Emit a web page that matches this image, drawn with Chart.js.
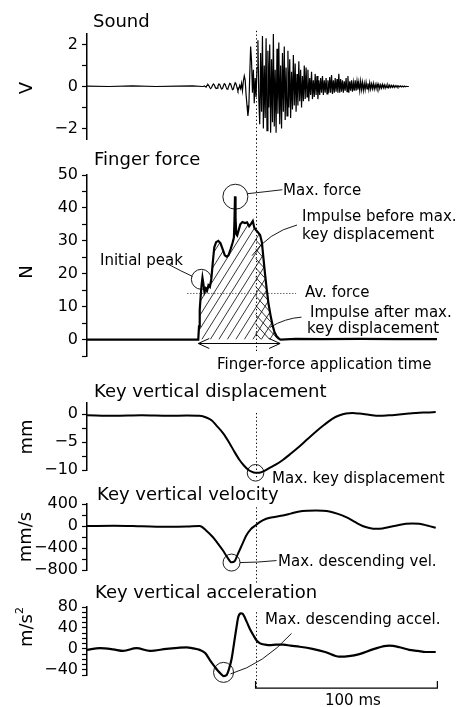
<!DOCTYPE html>
<html><head><meta charset="utf-8">
<script src="https://cdn.jsdelivr.net/npm/chart.js@4.4.0/dist/chart.umd.min.js"></script>
<style>
html,body{margin:0;padding:0;background:#fff;}
#wrap{position:relative;width:459px;height:707px;overflow:hidden;font-family:"DejaVu Sans",sans-serif;color:#000;}
canvas{position:absolute;left:0;top:0;}
.t{position:absolute;white-space:nowrap;line-height:1;}
.ti{font-size:18px;}
.an{font-size:15px;}
.yl{position:absolute;white-space:nowrap;line-height:1;font-size:18px;transform:translate(-50%,-50%) rotate(-90deg);}
.yl sup{font-size:11px;vertical-align:top;position:relative;top:-3px;}
</style></head>
<body><div id="wrap">
<canvas id="cSound" width="459" height="707"></canvas>
<canvas id="cForce" width="459" height="707"></canvas>
<canvas id="cDisp" width="459" height="707"></canvas>
<canvas id="cVel" width="459" height="707"></canvas>
<canvas id="cAcc" width="459" height="707"></canvas>

<div class="t ti" style="left:93px;top:12.4px">Sound</div>
<div class="t ti" style="left:94px;top:150.4px">Finger force</div>
<div class="t ti" style="left:94px;top:382.4px">Key vertical displacement</div>
<div class="t ti" style="left:97px;top:485.4px">Key vertical velocity</div>
<div class="t ti" style="left:95px;top:583px">Key vertical acceleration</div>

<div class="t an" style="left:283px;top:182.8px">Max. force</div>
<div class="t an" style="left:302px;top:208.8px">Impulse before max.</div>
<div class="t an" style="left:302px;top:226.8px">key displacement</div>
<div class="t an" style="left:100px;top:252.8px">Initial peak</div>
<div class="t an" style="left:305px;top:284.5px">Av. force</div>
<div class="t an" style="left:310px;top:304.8px">Impulse after max.</div>
<div class="t an" style="left:307px;top:320.8px">key displacement</div>
<div class="t an" style="left:217px;top:356.6px">Finger-force application time</div>
<div class="t an" style="left:272px;top:470.8px">Max. key displacement</div>
<div class="t an" style="left:278px;top:554.3px">Max. descending vel.</div>
<div class="t an" style="left:265px;top:611.8px">Max. descending accel.</div>
<div class="t an" style="left:325px;top:692.8px">100 ms</div>

<div class="yl" style="left:25.5px;top:87.5px">V</div>
<div class="yl" style="left:26px;top:271.7px">N</div>
<div class="yl" style="left:26px;top:436.7px">mm</div>
<div class="yl" style="left:25px;top:537px">mm/s</div>
<div class="yl" style="left:26px;top:627px">m/s<sup>2</sup></div>
</div>
<script>
// ---------- DATA (time in ms) ----------
const T_MAXDISP = 92.7;      // time of maximum key displacement
const T_ON = 61.2;           // finger-force onset
const T_OFF = 106.4;         // finger-force end
const AV_FORCE = 14;         // average force (N)

const soundBaseTime = [0, 12, 25, 38, 50, 58, 63.5];
const soundBaseV    = [0.02, 0.0, 0.03, 0.0, 0.02, 0.03, 0];
const soundT0 = 64, soundDt = 0.5;
const soundV = [
 0,0.03,0.0,-0.03,0.05,0.1,0.05,-0.05,-0.1,-0.05,
 0.05,0.12,0.08,-0.03,-0.1,-0.08,0.03,0.12,0.1,-0.02,
 -0.12,-0.1,0.02,0.13,0.1,-0.03,-0.13,-0.1,0.03,0.15,
 0.12,-0.02,-0.15,-0.12,0.05,0.18,0.12,-0.05,-0.2,-0.1,
 0.05,-0.1,0.15,-0.2,0.25,0.5,0.3,-0.4,-0.9,-1.4,
 -1.0,0.5,1.9,1.2,-0.3,0.8,-0.8,0.4,-0.5,0.9,
 2.2,-0.6,-1.8,1.6,-1.2,2.4,-2.0,1.0,-1.5,2.3,
 -2.1,1.7,-1.0,2.0,-2.2,1.3,-1.7,2.5,-1.9,0.8,
 -2.2,1.8,-1.3,2.1,-1.8,1.0,-2.0,1.6,-1.2,1.9,
 -1.6,0.9,-1.4,1.7,-1.0,1.3,-1.5,0.7,-1.1,1.5,
 -0.9,1.1,-1.2,0.6,-0.9,1.2,-0.7,0.8,-1.0,0.5,
 -0.7,1.0,
 -0.6,0.9,-0.5,0.8,-0.7,0.4,-0.4,0.7,-0.6,0.3,
 -0.5,0.6,-0.4,0.5,-0.6,0.3,-0.4,0.4,-0.3,0.5,
 -0.4,0.3,-0.3,0.4,-0.35,0.3,-0.3,0.45,-0.3,0.55,
 -0.35,0.3,-0.3,0.4,-0.25,0.35,-0.3,0.6,-0.3,0.35,
 -0.25,0.3,-0.3,0.25,-0.2,0.4,-0.25,0.5,-0.3,0.25,
 -0.2,0.3,-0.25,0.2,-0.2,0.3,-0.2,0.25,-0.15,0.2,
 -0.2,0.25,-0.15,0.2,-0.18,0.15,-0.15,0.2,-0.12,0.15,
 -0.15,0.18,-0.12,0.12,-0.1,0.15,-0.12,0.1,-0.1,0.12,
 -0.08,0.1,-0.1,0.08,-0.08,0.1,-0.06,0.08,-0.08,0.06,
 -0.06,0.07,-0.05,0.06,-0.05,0.05,-0.04,0.05,-0.04,0.04,
 -0.03,0.04,-0.03,0.03,-0.02,0.03,-0.02,0.02,-0.02,0.02,
 -0.01,0.01,0,0,0
];

const forceTime = [0,61.2,61.6,62.0,62.5,63.0,63.5,64.0,64.6,65.3,
 66.0,66.8,67.6,68.4,69.2,70.0,71.0,72.2,73.4,74.6,
 75.8,76.8,77.8,79.0,80.1,80.8,81.1,81.4,81.7,82.1,
 82.6,83.3,84.3,85.5,86.8,88.0,89.2,90.3,91.2,92.0,
 92.9,94.0,95.2,96.2,97.0,97.9,98.8,99.8,100.9,102.0,
 103.1,104.3,105.6,106.4,115,130,150,170,192.5];
const forceN = [0,0,4,9,13,16.5,18.8,17,14.5,15.5,
 14.8,16.5,16,18.5,23.5,28,29.6,30,29.3,27.5,
 25.6,25.2,25.6,27.5,29.5,31,36,43.5,37,32,
 31.6,33,35,35.7,35.4,35.6,34.4,35.2,36,34,
 33.3,32.6,31.8,29.5,25,20,15.5,11,7.5,4.5,
 2.3,1,0.3,0,0.2,0.15,0.2,0.1,0.1];

const dispTime = [0,15,30,45,55,62,65.6,68.5,71.1,74.8,
 78.4,81.2,83.9,86.3,88.5,90.5,92.5,94.5,96.7,100,
 104,107.7,112,116.8,121.5,126,130.5,135.1,139,142.4,
 146,149.8,155,160.7,166,171.7,177,182.7,187,191.8];
const dispMM = [-0.2,-0.3,-0.2,-0.3,-0.25,-0.3,-0.6,-1.1,-2.0,-3.4,
 -5.2,-6.8,-8.2,-9.2,-9.9,-10.3,-10.5,-10.5,-10.3,-9.7,
 -9.0,-8.2,-7.1,-5.8,-4.4,-3.1,-1.9,-0.8,-0.2,0.1,
 0.2,0.1,-0.1,-0.3,-0.2,-0.05,0.1,0.25,0.3,0.4];

const velTime = [0,15,30,45,55,62,65.5,69.3,72,74.8,
 77.2,79.4,81.2,83,85.3,87.6,90,92.2,95,98.6,
 103,107.7,112,116.8,121.5,126,129.7,133.3,138,142.5,
 147,151.6,155.3,158.9,162.5,166.2,171,175.4,179,182.7,
 187,191.8];
const velMMs = [0,5,-5,-15,-10,0,-80,-204,-320,-446,
 -570,-660,-640,-506,-340,-173,-60,0,70,131,
 165,191,225,264,278,282,278,264,220,160,
 80,0,-35,-51,-45,-20,15,40,45,40,
 10,-33];

const accTime = [0,7.1,14.4,19.9,27.2,34.6,43.7,50,54.7,58.5,
 62,65,67.5,70,72,73.7,75.2,76.8,78.4,79.6,
 80.5,81.4,82.3,83.2,84.7,85.6,87.8,89.6,91.5,93.3,
 95.2,98,100.7,104,108,112,117,124,131,138.8,
 144,149.8,158,166.2,172,177.2,182,186.3,191.8];
const accMS2 = [-2,1.3,-1,-4,1.3,-4,0,2,3,1,
 -2,-8,-21,-33,-42,-48,-52,-50,-35,-18,
 2,23,43,61,68,67,52,38,26,16,
 10.5,8,7,8,8,6,4,0,-6,-15,
 -14,-10,0,6,3,-2,-4,-6,-6];

// ---------- helpers ----------
const X_MAX = 192.5;
const toXY = (ts, vs) => ts.map((t, i) => ({x: t, y: vs[i]}));
const isMult = (v, s) => Math.abs(v / s - Math.round(v / s)) < 1e-6;
const fmt = v => (v < 0 ? '\u2212' : '') + Math.abs(Math.round(v * 100) / 100);
const px = (c, t) => c.scales.x.getPixelForValue(t);
const py = (c, v) => c.scales.y.getPixelForValue(v);
function tickList(min, max, step) {
  const out = [];
  for (let k = Math.ceil(min / step - 1e-9); k * step <= max + 1e-9; k++) out.push({value: Math.round(k * step * 1000) / 1000});
  return out;
}

function vDotted(ctx, x, y1, y2) {
  ctx.save(); ctx.strokeStyle = '#000'; ctx.lineWidth = 1;
  ctx.setLineDash([1.3, 2.4]);
  ctx.beginPath(); ctx.moveTo(Math.round(x) + 0.5, y1); ctx.lineTo(Math.round(x) + 0.5, y2); ctx.stroke();
  ctx.restore();
}
function ring(ctx, x, y, r) {
  ctx.save(); ctx.strokeStyle = '#000'; ctx.lineWidth = 0.9;
  ctx.beginPath(); ctx.arc(x, y, r, 0, Math.PI * 2); ctx.stroke(); ctx.restore();
}
function curve(ctx, a, b, e) {
  ctx.save(); ctx.strokeStyle = '#000'; ctx.lineWidth = 0.9;
  ctx.beginPath(); ctx.moveTo(a[0], a[1]); ctx.quadraticCurveTo(b[0], b[1], e[0], e[1]); ctx.stroke(); ctx.restore();
}

function makeChart(id, area, y, datasets, before, after) {
  return new Chart(document.getElementById(id), {
    type: 'line',
    data: {datasets},
    options: {
      responsive: false, animation: false, events: [],
      layout: {padding: {left: 0, right: 459 - 437, top: area[0], bottom: 707 - area[1]}},
      plugins: {legend: {display: false}, tooltip: {enabled: false}},
      elements: {point: {radius: 0}},
      scales: {
        x: {type: 'linear', min: 0, max: X_MAX, display: false},
        y: {
          type: 'linear', min: y.min, max: y.max,
          afterFit: s => { s.width = 87; },
          afterBuildTicks: s => { s.ticks = tickList(y.min, y.max, y.step); },
          ticks: {autoSkip: false, padding: 4, color: '#000',
                  font: {family: 'DejaVu Sans', size: 16},
                  callback: v => isMult(v, y.label) ? fmt(v) : ''},
          grid: {display: true, drawOnChartArea: false, drawTicks: true, tickLength: 5,
                 tickColor: '#000', tickWidth: 1.2},
          border: {display: true, color: '#000', width: 1.5}
        }
      }
    },
    plugins: [{id: 'ann_' + id,
      beforeDatasetsDraw: c => { if (before) before(c); },
      afterDatasetsDraw: c => { if (after) after(c); }}]
  });
}

const lineDS = (data, w, extra) => Object.assign({data, borderColor: '#000', borderWidth: w,
  pointRadius: 0, fill: false, clip: false}, extra || {});

// ---------- Sound ----------
const soundData = toXY(soundBaseTime, soundBaseV).concat(
  soundV.map((v, i) => ({x: soundT0 + i * soundDt, y: v})));
makeChart('cSound', [34, 139], {min: -2.5, max: 2.5, step: 1, label: 2},
  [lineDS(soundData, 1.2, {tension: 0})], null,
  c => { vDotted(c.ctx, px(c, T_MAXDISP), py(c, 2.65), py(c, -2.5)); });

// ---------- Finger force ----------
function hatch(c) {
  const ctx = c.ctx, y0 = py(c, 0);
  ctx.save();
  ctx.beginPath();
  let started = false;
  for (let i = 0; i < forceTime.length; i++) {
    const t = forceTime[i];
    if (t < T_ON || t > T_OFF) continue;
    const x = px(c, t), yy = py(c, forceN[i]);
    if (!started) { ctx.moveTo(x, y0); started = true; }
    ctx.lineTo(x, yy);
  }
  ctx.lineTo(px(c, T_OFF), y0); ctx.closePath(); ctx.clip();
  const L = px(c, T_ON) - 260, R = px(c, T_OFF) + 260, H = 220;
  ctx.strokeStyle = '#000'; ctx.lineWidth = 0.8;
  ctx.beginPath();
  for (let x = L; x < R; x += 8.5) { ctx.moveTo(x, y0); ctx.lineTo(x + H / 1.6, y0 - H); }
  ctx.stroke();
  ctx.beginPath(); ctx.rect(px(c, T_MAXDISP), 0, 459, 707); ctx.clip();
  ctx.beginPath();
  for (let x = L; x < R + 300; x += 8.5) { ctx.moveTo(x, y0); ctx.lineTo(x - H / 1.1, y0 - H); }
  ctx.stroke();
  ctx.restore();
}
makeChart('cForce', [175, 356], {min: -5, max: 50, step: 5, label: 10},
  [lineDS(toXY(forceTime, forceN), 2.2, {tension: 0})], hatch,
  c => {
    const ctx = c.ctx;
    ctx.save(); ctx.strokeStyle = '#444'; ctx.lineWidth = 0.8; ctx.setLineDash([1.5, 1.5]);
    ctx.beginPath(); ctx.moveTo(px(c, 55), py(c, AV_FORCE)); ctx.lineTo(px(c, 115), py(c, AV_FORCE)); ctx.stroke();
    ctx.restore();
    const mx = px(c, 81.6), my = py(c, 43.4);
    ring(ctx, mx, my, 12.5);
    curve(ctx, [mx + 12, my - 3], [mx + 30, my - 5], [mx + 47, my - 7]);
    const ix = px(c, 62.9), iy = py(c, 18.3);
    ring(ctx, ix, iy, 10);
    curve(ctx, [ix - 33, iy - 15], [ix - 20, iy - 8], [ix - 9, iy - 3]);
    curve(ctx, [px(c, 90.8), py(c, 25.5)], [px(c, 99.5), py(c, 32.5)], [px(c, 115.5), py(c, 34.8)]);
    curve(ctx, [px(c, 100.6), py(c, 3.7)], [px(c, 109), py(c, 6.5)], [px(c, 118), py(c, 6.8)]);
    const ay = py(c, -1.2), a1 = px(c, T_ON), a2 = px(c, T_OFF - 0.2);
    ctx.save(); ctx.strokeStyle = '#000'; ctx.lineWidth = 1;
    ctx.beginPath(); ctx.moveTo(a1, ay); ctx.lineTo(a2, ay);
    ctx.moveTo(a1 + 11, ay - 5); ctx.lineTo(a1, ay); ctx.lineTo(a1 + 11, ay + 5);
    ctx.moveTo(a2 - 11, ay - 5); ctx.lineTo(a2, ay); ctx.lineTo(a2 - 11, ay + 5);
    ctx.stroke(); ctx.restore();
    vDotted(ctx, px(c, T_MAXDISP), py(c, 61), py(c, -4.2));
  });

// ---------- Key displacement ----------
makeChart('cDisp', [403, 470], {min: -10, max: 2, step: 2.5, label: 5},
  [lineDS(toXY(dispTime, dispMM), 2, {cubicInterpolationMode: 'monotone'})], null,
  c => {
    vDotted(c.ctx, px(c, T_MAXDISP), py(c, 0.2), py(c, -11.6));
    ring(c.ctx, px(c, T_MAXDISP), py(c, -10.5), 8.3);
  });

// ---------- Key velocity ----------
makeChart('cVel', [504, 570], {min: -800, max: 400, step: 200, label: 400},
  [lineDS(toXY(velTime, velMMs), 2, {cubicInterpolationMode: 'monotone'})], null,
  c => {
    vDotted(c.ctx, px(c, T_MAXDISP), py(c, 340), py(c, -1040));
    const vx = px(c, 79.5), vy = py(c, -665);
    ring(c.ctx, vx, vy, 8.5);
    curve(c.ctx, [vx + 8.5, vy], [vx + 25, vy], [vx + 45, vy - 2]);
  });

// ---------- Key acceleration ----------
makeChart('cAcc', [607, 675], {min: -50, max: 80, step: 10, label: 40},
  [lineDS(toXY(accTime, accMS2), 2.2, {cubicInterpolationMode: 'monotone'})], null,
  c => {
    const ctx = c.ctx;
    vDotted(ctx, px(c, T_MAXDISP), py(c, 70), py(c, -75));
    const ax = px(c, 75.1), ay = py(c, -45);
    ring(ctx, ax, ay, 10);
    curve(ctx, [ax + 7, ay + 1.5], [ax + 40, ay - 8], [ax + 68, ay - 39]);
    const by = py(c, -75), b1 = px(c, T_MAXDISP), b2 = px(c, T_MAXDISP + 100);
    ctx.save(); ctx.strokeStyle = '#000'; ctx.lineWidth = 1.2;
    ctx.beginPath(); ctx.moveTo(b1, by - 7); ctx.lineTo(b1, by); ctx.lineTo(b2, by); ctx.lineTo(b2, by - 7);
    ctx.stroke(); ctx.restore();
  });
</script>
</body></html>
